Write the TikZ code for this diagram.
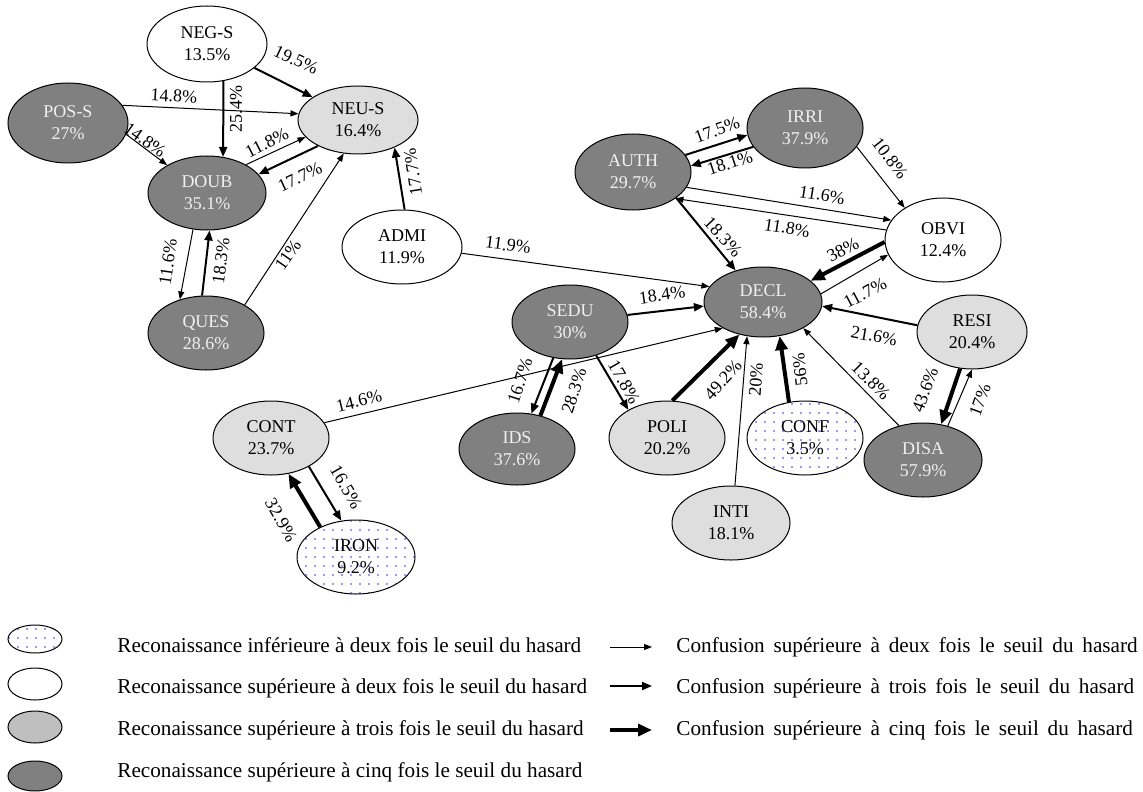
\documentclass[tikz,border=0pt]{standalone}
\usepackage{fontspec}
\setmainfont{Liberation Serif}
\usetikzlibrary{arrows.meta,shapes.geometric,patterns.meta}

\begin{document}
\begin{tikzpicture}[x=0.5pt,y=-0.5pt,
  emo/.style={ellipse, draw, line width=0.5pt, inner sep=0pt,
              minimum width=58pt, minimum height=37pt, align=center,
              font=\fontsize{9}{11}\selectfont},
  recdark/.style={emo, fill=black!50, text=black!6},
  reclight/.style={emo, fill=black!13},
  recwhite/.style={emo, fill=white},
  recdots/.style={emo, pattern={Dots[distance=4.5pt,radius=0.45pt]},
                  pattern color=blue!80},
  confdeux/.style={-{Triangle[length=4pt,width=3pt]}, line width=0.5pt},
  conftrois/.style={-{Triangle[length=5pt,width=4pt]}, line width=1pt},
  confcinq/.style={-{Triangle[length=7pt,width=6pt]}, line width=2pt},
  pct/.style={inner sep=0pt, font=\fontsize{9}{11}\selectfont},
  legtxt/.style={inner sep=0pt, anchor=west, font=\fontsize{10.6}{12}\selectfont},
  legwide/.style={legtxt, execute at begin node={\spaceskip=4.4pt plus 1pt\relax}}
  ]

  \fill[white] (0,0) rectangle (1143,791);
  \useasboundingbox (0,0) rectangle (1143,791);

  % left group
  \node[recwhite, minimum width=60pt, minimum height=38pt] (negs) at (207,44) {NEG-S\\13.5\%};
  \node[recdark, minimum width=60pt, minimum height=40pt] (poss) at (68,123) {POS-S\\27\%};
  \node[reclight, minimum width=60pt, minimum height=34pt] (neus) at (358,120) {NEU-S\\16.4\%};
  \node[recdark, minimum width=59pt] (doub) at (207,193) {DOUB\\35.1\%};
  \node[recdark] (ques) at (206,333) {QUES\\28.6\%};
  \node[recwhite, minimum width=60pt] (admi) at (402,247) {ADMI\\11.9\%};

  % right group
  \node[recdark, minimum height=40pt] (irri) at (805,128) {IRRI\\37.9\%};
  \node[recdark, minimum height=38pt] (auth) at (633,172) {AUTH\\29.7\%};
  \node[recwhite, minimum height=42pt] (obvi) at (943,240) {OBVI\\12.4\%};
  \node[recdark, minimum width=59pt, minimum height=35pt] (decl) at (763,302) {DECL\\58.4\%};
  \node[reclight, minimum width=55pt] (resi) at (972,332) {RESI\\20.4\%};
  \node[recdark, minimum width=59pt] (disa) at (923,460) {DISA\\57.9\%};
  \node[recdots] (conf) at (805,438) {CONF\\3.5\%};
  \node[reclight, minimum width=59pt] (inti) at (731,523) {INTI\\18.1\%};
  \node[reclight] (poli) at (667,438) {POLI\\20.2\%};
  \node[recdark] (sedu) at (570,322) {SEDU\\30\%};
  \node[recdark, minimum height=36pt] (ids) at (517,449) {IDS\\37.6\%};
  \node[reclight] (cont) at (271,438) {CONT\\23.7\%};
  \node[recdots, minimum width=59pt] (iron) at (356,557) {IRON\\9.2\%};

  \path
  % left paths
  (negs) edge[conftrois] (neus)
  (negs.-66) edge[conftrois] (doub.66)
  (poss.18) edge[confdeux] (neus.174)
  (poss.-11) edge[confdeux] (doub.145)
  (doub.36) edge[confdeux] (neus.198)
  (neus.213) edge[conftrois] (doub.20)
  (ques.36) edge[confdeux] (neus.-113)
  (doub.-111) edge[confdeux] (ques.128)
  (ques.96) edge[conftrois] (doub.-86)
  (admi.86) edge[conftrois] (neus.-37)
  (admi.-6) edge[confdeux] (decl.164)
  % right paths
  (auth.18) edge[conftrois] (irri.187)
  (irri.-160) edge[conftrois] (auth.6)
  (irri.-20) edge[confdeux] (obvi.140)
  (auth.-16) edge[confdeux] (obvi.159)
  (obvi.170) edge[confdeux] (auth.-32)
  (auth.-31) edge[conftrois] (decl.131)
  (obvi.182) edge[confcinq] (decl.24)
  (decl.8) edge[confdeux] (obvi.-165)
  (resi.173) edge[conftrois] (decl.-4)
  (sedu.7) edge[conftrois] (decl.184)
  (cont.16) edge[confdeux] (decl.213)
  (sedu.-115) edge[conftrois] (ids.68)
  (ids.55) edge[confcinq] (sedu.-102)
  (sedu.-52) edge[conftrois] (poli.144)
  (poli.82) edge[confcinq] (decl.-126)
  (inti.84) edge[confdeux] (decl.-115)
  (conf.114) edge[confcinq] (decl.-64)
  (disa.125) edge[confdeux] (decl.-33)
  (resi.-108) edge[confcinq] (disa.63)
  (disa.54) edge[confdeux] (resi.-90)
  (cont.-37) edge[conftrois] (iron.112)
  (iron.140) edge[confcinq] (cont.-64);

  % percentages
  \node[pct, rotate=-25] (p1) at (296,60) {19.5\%};
  \node[pct, rotate=90] (p2) at (236,109) {25.4\%};
  \node[pct, rotate=-3] (p3) at (174,96) {14.8\%};
  \node[pct, rotate=-35] (p4) at (145,140) {14.8\%};
  \node[pct, rotate=27] (p5) at (267,143) {11.8\%};
  \node[pct, rotate=25] (p6) at (300,177) {17.7\%};
  \node[pct, rotate=55] (p7) at (288,255) {11\%};
  \node[pct, rotate=82] (p8) at (168,262) {11.6\%};
  \node[pct, rotate=83] (p9) at (221,261) {18.3\%};
  \node[pct, rotate=99] (p10) at (413,172) {17.7\%};
  \node[pct, rotate=-7.5] (p11) at (508,245) {11.9\%};
  \node[pct, rotate=20] (p12) at (717,130) {17.5\%};
  \node[pct, rotate=18] (p13) at (730,163) {18.1\%};
  \node[pct, rotate=-52] (p14) at (890,158) {10.8\%};
  \node[pct, rotate=-9] (p15) at (822,195) {11.6\%};
  \node[pct, rotate=-9] (p16) at (787,228) {11.8\%};
  \node[pct, rotate=-47] (p17) at (723,237) {18.3\%};
  \node[pct, rotate=28] (p18) at (843,250) {38\%};
  \node[pct, rotate=28] (p19) at (865,293) {11.7\%};
  \node[pct, rotate=-10] (p20) at (874,336) {21.6\%};
  \node[pct, rotate=8] (p21) at (662,295) {18.4\%};
  \node[pct, rotate=13.5] (p22) at (359,401) {14.6\%};
  \node[pct, rotate=72] (p23) at (520,381) {16.7\%};
  \node[pct, rotate=72] (p24) at (574,391) {28.3\%};
  \node[pct, rotate=-60] (p25) at (624,382) {17.8\%};
  \node[pct, rotate=48] (p26) at (723,380) {49.2\%};
  \node[pct, rotate=86] (p27) at (756,380) {20\%};
  \node[pct, rotate=96] (p28) at (800,370) {56\%};
  \node[pct, rotate=-45] (p29) at (871,381) {13.8\%};
  \node[pct, rotate=70] (p30) at (925,390) {43.6\%};
  \node[pct, rotate=70] (p31) at (980,400) {17\%};
  \node[pct, rotate=-60] (p32) at (346,487) {16.5\%};
  \node[pct, rotate=-60] (p33) at (281,520) {32.9\%};

  % legend
  \node[recdots, minimum width=27pt, minimum height=14pt] (k1) at (35,639) {};
  \node[recwhite, minimum width=27pt, minimum height=16pt] (k2) at (35,684) {};
  \node[emo, fill=black!25, minimum width=27pt, minimum height=16pt] (k3) at (35,727) {};
  \node[recdark, minimum width=27pt, minimum height=15pt] (k4) at (35,776) {};
  \node[legtxt] (t1) at (117,645) {Reconaissance inférieure à deux fois le seuil du hasard};
  \node[legtxt] (t2) at (117,688) {Reconaissance supérieure à deux fois le seuil du hasard};
  \node[legtxt] (t3) at (117,730) {Reconaissance supérieure à trois fois le seuil du hasard};
  \node[legtxt] (t4) at (117,772) {Reconaissance supérieure à cinq fois le seuil du hasard};

  \coordinate (a1) at (610,647);
  \coordinate (b1) at (652,647);
  \coordinate (a2) at (610,686);
  \coordinate (b2) at (652,686);
  \coordinate (a3) at (610,730);
  \coordinate (b3) at (652,730);
  \path (a1) edge[confdeux] (b1)
        (a2) edge[conftrois] (b2)
        (a3) edge[confcinq] (b3);
  \node[legwide] (t5) at (676,647) {Confusion supérieure à deux fois le seuil du hasard};
  \node[legwide] (t6) at (676,688) {Confusion supérieure à trois fois le seuil du hasard};
  \node[legwide] (t7) at (676,730) {Confusion supérieure à cinq fois le seuil du hasard};

\end{tikzpicture}
\end{document}
